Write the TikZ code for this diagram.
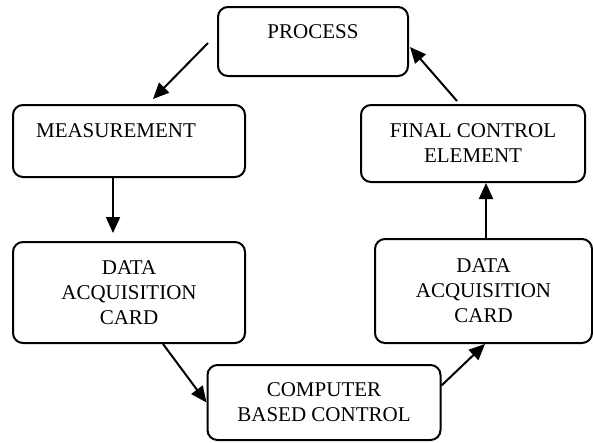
\documentclass[tikz,border=0pt]{standalone}
\usepackage{fontspec}
\setmainfont{Liberation Serif}
\usetikzlibrary{arrows.meta,calc}
\begin{document}
\begin{tikzpicture}[x=1pt,y=-1pt,
  box/.style={draw,line width=2pt,rounded corners=10pt,inner sep=0pt,align=center,
    font=\fontsize{21}{25}\selectfont},
  lbl/.style={inner sep=0pt,align=center,font=\fontsize{21}{25}\selectfont},
  arr/.style={line width=2pt,-{Triangle[length=16pt,width=14pt]}}]
\useasboundingbox (0,0) rectangle (593,442);
\node[box,minimum width=190pt,minimum height=69pt] (proc) at (313,41.5) {};
\node[lbl] (procT) at (313,32) {PROCESS};
\node[box,minimum width=232pt,minimum height=72pt] (meas) at (129,141) {};
\node[lbl] (measT) at (116,131) {MEASUREMENT};
\node[box,minimum width=232pt,minimum height=101pt] (dac1) at (129,292.5) {DATA\\ACQUISITION\\CARD};
\node[box,minimum width=233pt,minimum height=75pt] (cbc) at (324,402.5) {COMPUTER\\BASED CONTROL};
\node[box,minimum width=217pt,minimum height=104pt] (dac2) at (483.5,291) {DATA\\ACQUISITION\\CARD};
\node[box,minimum width=224pt,minimum height=77pt] (fce) at (473,143.5) {FINAL CONTROL\\ELEMENT};
\draw[arr] ($(proc.west)+(-9,1.5)$) -- ($(meas.north)+(24,-5)$);
\draw[arr] ($(meas.south)+(-16,0)$) -- ($(dac1.north)+(-16,-8)$);
\draw[arr] ($(dac1.south)+(34,0)$) -- (cbc.west);
\draw[arr] ($(cbc.east)+(0,-17)$) -- ($(dac2.south)+(1.5,0)$);
\draw[arr] ($(dac2.north)+(2.5,0)$) -- ($(fce.south)+(13,0)$);
\draw[arr] ($(fce.north)+(-16,-3)$) -- ($(proc.east)+(1,5.5)$);
\end{tikzpicture}
\end{document}
